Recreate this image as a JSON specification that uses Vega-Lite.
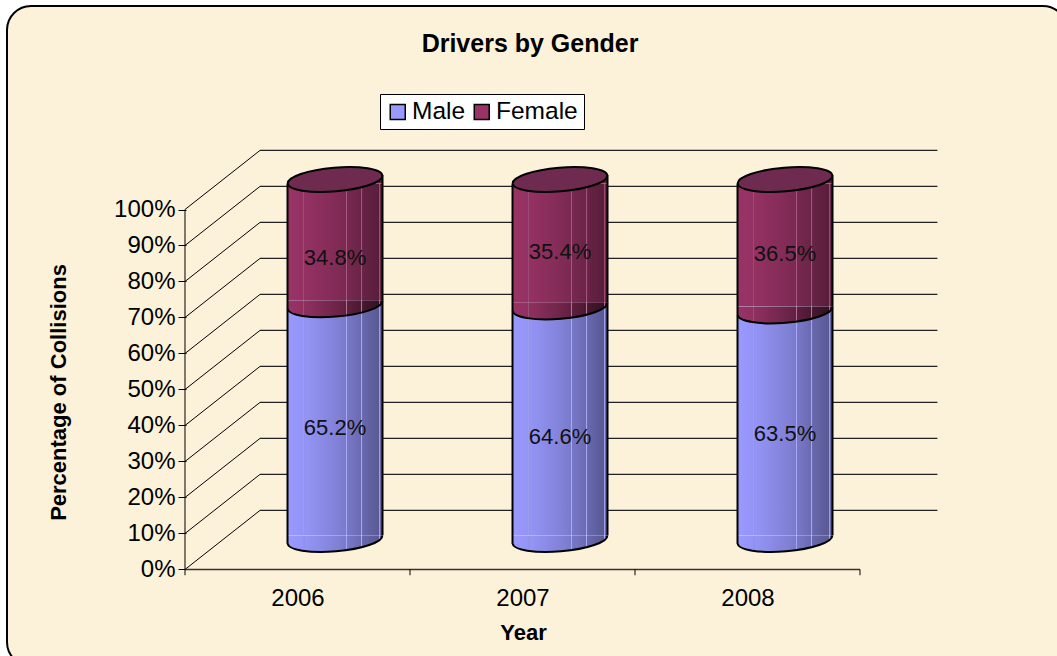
{"$schema":"https://vega.github.io/schema/vega-lite/v6.json","width":1060,"height":660,"autosize":{"type":"none"},"padding":{"left":7,"top":6,"right":0,"bottom":0},"background":"white","view":{"fill":"#fcf2d9","stroke":"#000000","strokeWidth":2,"cornerRadius":24},"config":{"font":"Liberation Sans"},"title":{"text":"Drivers by Gender","fontSize":25,"fontWeight":"bold","font":"Liberation Sans","color":"#000000","anchor":"middle","offset":-51,"dx":-7},"data":{"values":[{"year":2006,"series":"Male","value":65.2},{"year":2006,"series":"Female","value":34.8},{"year":2007,"series":"Male","value":64.6},{"year":2007,"series":"Female","value":35.4},{"year":2008,"series":"Male","value":63.5},{"year":2008,"series":"Female","value":36.5}]},"transform":[{"stack":"value","groupby":["year"],"sort":[{"field":"series","order":"descending"}],"as":["s0","s1"]},{"calculate":"datum.year-0.0444","as":"xL"},{"calculate":"datum.year+0.3778","as":"xR"},{"calculate":"datum.year+0.1667","as":"xC"},{"calculate":"datum.s0+8.33","as":"c0"},{"calculate":"datum.s1+8.33","as":"c1"},{"calculate":"datum.c0+1.2","as":"r0"},{"calculate":"datum.series=='Male'?datum.c1+1.2:datum.c1-1.2","as":"r1"},{"calculate":"datum.c0-1.2","as":"eL0"},{"calculate":"datum.c1-1.2","as":"eL1"},{"calculate":"datum.c0+1.2","as":"eR0"},{"calculate":"datum.c1+1.2","as":"eR1"},{"calculate":"(datum.s0+datum.s1)/2+8.33+({'2006Male':-1.5,'2006Female':-4.3,'2007Male':-3.7,'2007Female':-2.3,'2008Male':-2.5,'2008Female':-2.5})[datum.year+datum.series]","as":"labelY"},{"calculate":"datum.value+'%'","as":"label"}],"layer":[{"data":{"values":[{"v":0},{"v":10},{"v":20},{"v":30},{"v":40},{"v":50},{"v":60},{"v":70},{"v":80},{"v":90},{"v":100}]},"transform":[{"calculate":"datum.v+16.4","as":"yb"}],"mark":{"type":"rule","color":"#222222","strokeWidth":1.2},"encoding":{"x":{"datum":2005.833,"type":"quantitative","scale":{"domain":[2004.7089,2009.42],"nice":false,"zero":false},"axis":{"values":[2006,2007,2008],"format":"d","orient":"bottom","offset":-96,"domain":false,"ticks":false,"grid":false,"labelFontSize":24,"labelColor":"#000000","labelPadding":16,"labelFont":"Liberation Sans","title":"Year","titleFontSize":22,"titleFontWeight":"bold","titleColor":"#000000","titleX":516,"titleY":62,"titleBaseline":"middle","titleFont":"Liberation Sans"}},"x2":{"datum":2008.844},"y":{"field":"yb","type":"quantitative","scale":{"domain":[-26.81,156.53],"nice":false,"zero":false},"axis":{"values":[0,10,20,30,40,50,60,70,80,90,100],"labelExpr":"datum.value+'%'","orient":"left","offset":-179,"domain":false,"grid":false,"ticks":true,"tickSize":8,"tickColor":"#000000","tickWidth":1,"labelFontSize":24,"labelColor":"#000000","labelPadding":3,"labelFont":"Liberation Sans","title":"Percentage of Collisions","titleFontSize":22,"titleFontWeight":"bold","titleColor":"#000000","titleX":-128,"titleY":386,"titleAngle":-90,"titleBaseline":"middle","titleFont":"Liberation Sans"}}}},{"data":{"values":[{"v":0},{"v":10},{"v":20},{"v":30},{"v":40},{"v":50},{"v":60},{"v":70},{"v":80},{"v":90},{"v":100}]},"transform":[{"calculate":"datum.v+16.4","as":"yb"}],"mark":{"type":"rule","color":"#000000","strokeWidth":1},"encoding":{"x":{"datum":2005.5,"type":"quantitative"},"x2":{"datum":2005.833},"y":{"field":"v","type":"quantitative"},"y2":{"field":"yb"}}},{"data":{"values":[{"v":0}]},"mark":{"type":"rule","color":"#333333","strokeWidth":1.5},"encoding":{"x":{"datum":2005.5,"type":"quantitative"},"x2":{"datum":2008.5},"y":{"field":"v","type":"quantitative"}}},{"data":{"values":[{"t":2005.5},{"t":2006.5},{"t":2007.5},{"t":2008.5}]},"mark":{"type":"rule","color":"#000000","strokeWidth":1},"encoding":{"x":{"field":"t","type":"quantitative"},"y":{"datum":-1.6,"type":"quantitative"},"y2":{"datum":0}}},{"data":{"values":[{"t":2005.5}]},"mark":{"type":"rule","color":"#000000","strokeWidth":1},"encoding":{"x":{"field":"t","type":"quantitative"},"y":{"datum":0,"type":"quantitative"},"y2":{"datum":100}}},{"mark":{"type":"rect"},"encoding":{"x":{"field":"xL","type":"quantitative"},"x2":{"field":"xR"},"y":{"field":"r0","type":"quantitative"},"y2":{"field":"r1"},"color":{"field":"series","type":"nominal","scale":{"domain":["Male","Female"],"range":["#9999ff","#993366"]},"legend":{"orient":"none","legendX":373,"legendY":88,"direction":"horizontal","title":null,"fillColor":"#ffffff","strokeColor":"#000000","padding":5.5,"symbolType":"square","symbolSize":225,"symbolOpacity":1,"symbolStrokeColor":"#000000","symbolStrokeWidth":1.5,"labelFontSize":24.5,"labelFont":"Liberation Sans","labelColor":"#000000","columnPadding":4,"labelOffset":2}}}},{"mark":{"type":"point","shape":"M-.9965,.084A1,.25,-4.8,0,0,.9965,-.084L-.9965,-.084Z","filled":true,"size":9025,"opacity":1},"encoding":{"x":{"field":"xC","type":"quantitative"},"y":{"field":"c0","type":"quantitative"},"color":{"field":"series","type":"nominal","legend":null}}},{"mark":{"type":"rect","fill":{"gradient":"linear","x1":0,"y1":0,"x2":1,"y2":0,"stops":[{"offset":0,"color":"rgba(0,0,0,0)"},{"offset":0.165,"color":"rgba(0,0,0,0.03)"},{"offset":0.17,"color":"rgba(255,255,255,0.3)"},{"offset":0.18,"color":"rgba(0,0,0,0.03)"},{"offset":0.45,"color":"rgba(0,0,0,0.13)"},{"offset":0.615,"color":"rgba(0,0,0,0.2)"},{"offset":0.62,"color":"rgba(255,255,255,0.2)"},{"offset":0.63,"color":"rgba(0,0,0,0.22)"},{"offset":0.775,"color":"rgba(0,0,0,0.3)"},{"offset":0.78,"color":"rgba(255,255,255,0.2)"},{"offset":0.79,"color":"rgba(0,0,0,0.32)"},{"offset":0.965,"color":"rgba(0,0,0,0.42)"},{"offset":0.97,"color":"rgba(255,255,255,0.1)"},{"offset":0.98,"color":"rgba(0,0,0,0.42)"},{"offset":1,"color":"rgba(0,0,0,0.42)"}]}},"encoding":{"x":{"field":"xL","type":"quantitative"},"x2":{"field":"xR"},"y":{"field":"r0","type":"quantitative"},"y2":{"field":"r1"}}},{"mark":{"type":"point","shape":"M-.9965,.084A1,.25,-4.8,0,0,.9965,-.084L-.9965,-.084Z","filled":true,"size":9025,"opacity":1,"fill":{"gradient":"linear","x1":0,"y1":0,"x2":1,"y2":0,"stops":[{"offset":0,"color":"rgba(0,0,0,0)"},{"offset":0.165,"color":"rgba(0,0,0,0.03)"},{"offset":0.17,"color":"rgba(255,255,255,0.3)"},{"offset":0.18,"color":"rgba(0,0,0,0.03)"},{"offset":0.45,"color":"rgba(0,0,0,0.13)"},{"offset":0.615,"color":"rgba(0,0,0,0.2)"},{"offset":0.62,"color":"rgba(255,255,255,0.2)"},{"offset":0.63,"color":"rgba(0,0,0,0.22)"},{"offset":0.775,"color":"rgba(0,0,0,0.3)"},{"offset":0.78,"color":"rgba(255,255,255,0.2)"},{"offset":0.79,"color":"rgba(0,0,0,0.32)"},{"offset":0.965,"color":"rgba(0,0,0,0.42)"},{"offset":0.97,"color":"rgba(255,255,255,0.1)"},{"offset":0.98,"color":"rgba(0,0,0,0.42)"},{"offset":1,"color":"rgba(0,0,0,0.42)"}]}},"encoding":{"x":{"field":"xC","type":"quantitative"},"y":{"field":"c0","type":"quantitative"}}},{"transform":[{"filter":"datum.series=='Female'"}],"mark":{"type":"point","shape":"M-.9965,.084L.9965,-.084L.9965,.084Z","filled":true,"size":9025,"opacity":1,"color":"#5c1f3d"},"encoding":{"x":{"field":"xC","type":"quantitative"},"y":{"field":"c1","type":"quantitative"}}},{"transform":[{"filter":"datum.series=='Female'"}],"mark":{"type":"point","shape":"M-.9965,.084A1,.25,-4.8,1,1,.9965,-.084A1,.25,-4.8,1,1,-.9965,.084Z","filled":true,"size":9025,"opacity":1,"fill":"#6e2b4f","stroke":"#000000","strokeWidth":2},"encoding":{"x":{"field":"xC","type":"quantitative"},"y":{"field":"c1","type":"quantitative"}}},{"mark":{"type":"point","shape":"M-.9965,.084A1,.25,-4.8,0,0,.9965,-.084","filled":false,"fill":null,"size":9025,"opacity":1,"stroke":"#000000","strokeWidth":2},"encoding":{"x":{"field":"xC","type":"quantitative"},"y":{"field":"c0","type":"quantitative"}}},{"mark":{"type":"rule","color":"#000000","strokeWidth":2},"encoding":{"x":{"field":"xL","type":"quantitative"},"y":{"field":"eL0","type":"quantitative"},"y2":{"field":"eL1"}}},{"mark":{"type":"rule","color":"#000000","strokeWidth":2},"encoding":{"x":{"field":"xR","type":"quantitative"},"y":{"field":"eR0","type":"quantitative"},"y2":{"field":"eR1"}}},{"mark":{"type":"text","fontSize":22,"font":"Liberation Sans","color":"#111111","baseline":"middle","align":"center"},"encoding":{"x":{"field":"xC","type":"quantitative"},"y":{"field":"labelY","type":"quantitative"},"text":{"field":"label"}}}]}
